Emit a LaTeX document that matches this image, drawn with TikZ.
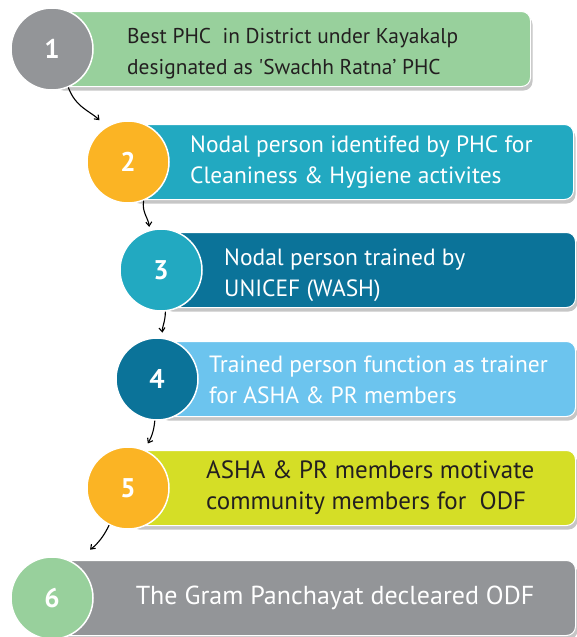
\documentclass[tikz,border=0pt]{standalone}
\usepackage{fontspec}
\setmainfont{PT Sans}
\usetikzlibrary{shadows,arrows.meta}

\definecolor{stepgreen}{RGB}{152,208,156}
\definecolor{stepgray}{RGB}{147,149,152}
\definecolor{stepteal}{RGB}{34,169,193}
\definecolor{stepnavy}{RGB}{11,115,153}
\definecolor{stepsky}{RGB}{108,196,238}
\definecolor{steplime}{RGB}{213,222,38}
\definecolor{steporange}{RGB}{251,180,36}
\definecolor{steptext}{RGB}{35,31,32}

\tikzset{
  numcircle/.style={circle, draw=white, line width=1.5pt, minimum size=82pt,
    inner sep=0pt, text=white, font=\fontsize{27}{27}\selectfont\bfseries},
  stepbar/.style={rectangle, rounded corners=9pt, draw=white, line width=1pt,
    minimum height=75pt, anchor=west, inner sep=0pt,
    drop shadow={shadow xshift=2pt, shadow yshift=-4pt, opacity=0.45}},
  steplabel/.style={anchor=west, align=left, inner sep=0pt,
    font=\fontsize{#1}{31}\selectfont},
  flow/.style={->, line width=1.1pt},
}

\begin{document}
\begin{tikzpicture}[x=1pt, y=1pt, >={Straight Barb[length=4pt,width=6pt]}]
\useasboundingbox (0,0) rectangle (576,-637);

% Bars
\node[stepbar, fill=stepgreen,  minimum width=478pt] (bar1) at (52,-49) {};
\node[stepbar, fill=stepteal,   minimum width=445pt] (bar2) at (128,-162) {};
\node[stepbar, fill=stepnavy,   minimum width=414pt] (bar3) at (161,-270) {};
\node[stepbar, fill=stepsky,    minimum width=418pt] (bar4) at (157,-379) {};
\node[stepbar, fill=steplime,   minimum width=447pt] (bar5) at (128,-488) {};
\node[stepbar, fill=stepgray,   minimum width=523pt] (bar6) at (52,-598) {};

% Step texts
\node[steplabel=21.4, text=steptext] (txt1) at (127,-54)
  {Best PHC\ \ in District under Kayakalp\\designated as \textquotesingle Swachh Ratna’ PHC};
\node[steplabel=23.5, text=white] (txt2) at (190,-162)
  {Nodal person identifed by PHC for\\Cleaniness \& Hygiene activites};
\node[steplabel=23.5, text=white] (txt3) at (224,-275)
  {Nodal person trained by\\UNICEF (WASH)};
\node[steplabel=23.5, text=white] (txt4) at (209,-380)
  {Trained person function as trainer\\for ASHA \& PR members};
\node[steplabel=25, text=steptext] (txt5) at (206,-488)
  {ASHA \& PR members motivate\\community members for\ \ ODF};
\node[steplabel=26, text=white, anchor=center] (txt6) at (335,-598)
  {The Gram Panchayat decleared ODF};

% Number circles
\node[numcircle, fill=stepgray]   (c1) at (52,-49)  {1};
\node[numcircle, fill=steporange] (c2) at (128,-162) {2};
\node[numcircle, fill=stepteal]   (c3) at (161,-270) {3};
\node[numcircle, fill=stepnavy]   (c4) at (157,-379) {4};
\node[numcircle, fill=steporange] (c5) at (128,-488) {5};
\node[numcircle, fill=stepgreen]  (c6) at (52,-598)  {6};

% Arrows
\draw[flow, shorten >=9pt] (c1.-67) to[out=-70, in=135] (c2.122);
\draw[flow, shorten >=3pt] (c2.-68) to[out=-100, in=95] (c3.106);
\draw[flow, shorten >=5pt] (c3.-84) to[out=-90, in=95] (c4.82);
\draw[flow, shorten >=7pt] (c4.-93) to[out=-95, in=60] (c5.67);
\draw[flow, shorten >=20pt] (c5.-117) to[out=-115, in=45] (c6.55);

\end{tikzpicture}
\end{document}
